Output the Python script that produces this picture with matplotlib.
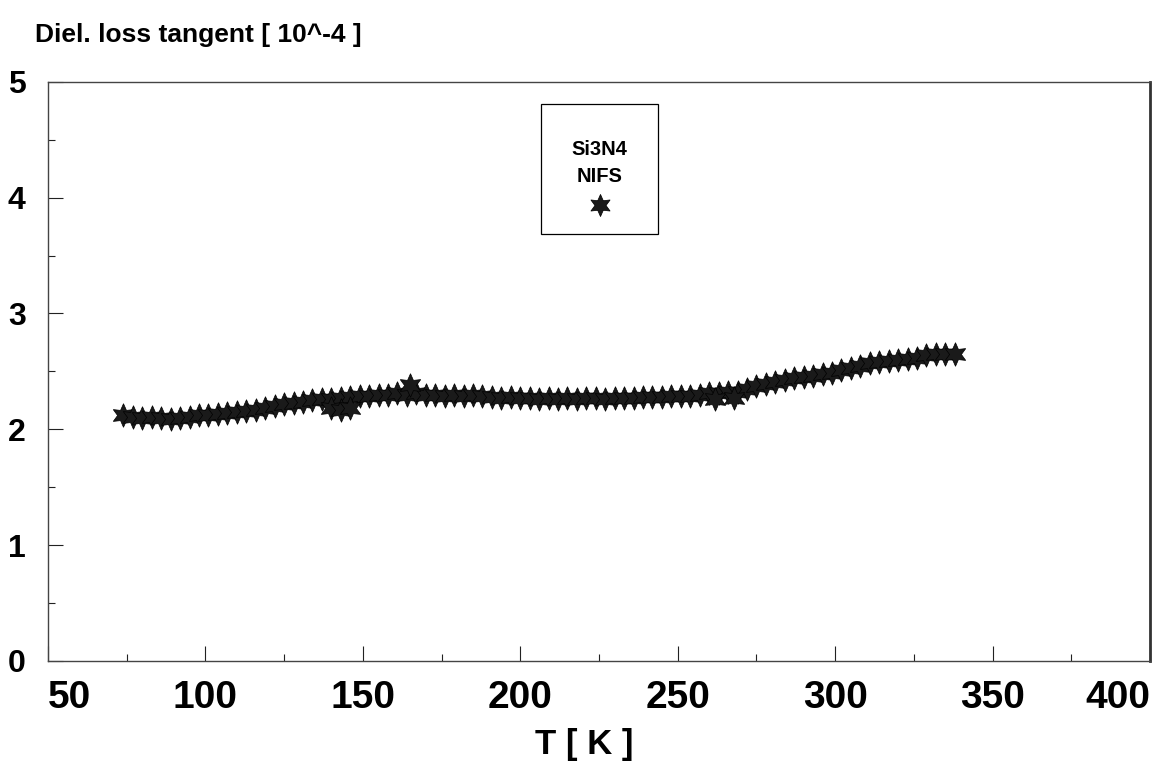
import matplotlib
matplotlib.use("Agg")
import matplotlib.pyplot as plt
from matplotlib.patches import Rectangle
from matplotlib.ticker import MultipleLocator

plt.rcParams['font.family'] = ['Liberation Sans', 'DejaVu Sans']

# Si3N4 (NIFS) loss tangent vs temperature
temp = [74, 77, 80, 83, 86, 89, 92, 95, 98, 101,
        104, 107, 110, 113, 116, 119, 122, 125, 128, 131,
        134, 137, 140, 143, 146, 149, 152, 155, 158, 161,
        164, 167, 170, 173, 176, 179, 182, 185, 188, 191,
        194, 197, 200, 203, 206, 209, 212, 215, 218, 221,
        224, 227, 230, 233, 236, 239, 242, 245, 248, 251,
        254, 257, 260, 263, 266, 269, 272, 275, 278, 281,
        284, 287, 290, 293, 296, 299, 302, 305, 308, 311,
        314, 317, 320, 323, 326, 329, 332, 335, 338]
tand = [2.12, 2.11, 2.10, 2.11, 2.10, 2.09, 2.10, 2.11, 2.12, 2.12,
        2.13, 2.14, 2.15, 2.16, 2.17, 2.18, 2.20, 2.22, 2.23, 2.24,
        2.25, 2.26, 2.26, 2.27, 2.28, 2.29, 2.29, 2.30, 2.30, 2.31,
        2.30, 2.31, 2.30, 2.30, 2.29, 2.30, 2.29, 2.30, 2.29, 2.28,
        2.27, 2.28, 2.27, 2.27, 2.26, 2.27, 2.26, 2.27, 2.26, 2.27,
        2.27, 2.26, 2.27, 2.27, 2.27, 2.28, 2.28, 2.28, 2.29, 2.29,
        2.29, 2.30, 2.31, 2.31, 2.32, 2.32, 2.35, 2.37, 2.39, 2.41,
        2.43, 2.44, 2.45, 2.46, 2.48, 2.49, 2.51, 2.53, 2.55, 2.57,
        2.58, 2.59, 2.60, 2.61, 2.62, 2.64, 2.65, 2.65, 2.65]

# a few stray points off the main band
temp_out = [140, 143, 146, 165, 262, 268]
tand_out = [2.18, 2.17, 2.18, 2.38, 2.26, 2.27]

xticks = [50, 100, 150, 200, 250, 300, 350, 400]
yticks = [0, 1, 2, 3, 4, 5]

star = (6, 1, 0)

fig = plt.figure(figsize=(11.68, 7.65), dpi=100)
ax = fig.add_axes([0.041, 0.136, 0.9436, 0.757])

ax.plot(temp, tand, linestyle='none', marker=star, markersize=17,
        color='#1a1a1a', markeredgecolor='black', markeredgewidth=0.5)
ax.plot(temp_out, tand_out, linestyle='none', marker=star, markersize=17,
        color='#1a1a1a', markeredgecolor='black', markeredgewidth=0.5)

ax.set_xlim(50, 400)
ax.set_ylim(0, 5)
ax.set_xticks(xticks)
ax.set_yticks(yticks)
ax.xaxis.set_minor_locator(MultipleLocator(25))
ax.yaxis.set_minor_locator(MultipleLocator(0.5))
ax.set_xticklabels([str(t) for t in xticks], fontsize=28, fontweight='bold')
ax.set_yticklabels([str(t) for t in yticks], fontsize=23, fontweight='bold')
xl = ax.get_xticklabels()
xl[0].set_horizontalalignment('left')
xl[-1].set_horizontalalignment('right')

ax.tick_params(axis='both', which='major', direction='in', length=10.5,
               width=0.8, color='#222222', top=False, right=False)
ax.tick_params(axis='both', which='minor', direction='in', length=5,
               width=0.8, color='#222222', top=False, right=False)
ax.tick_params(axis='x', which='major', pad=14)
ax.tick_params(axis='y', which='major', pad=16)

for side in ['left', 'bottom', 'top']:
    ax.spines[side].set_color('#444444')
    ax.spines[side].set_linewidth(1.0)
ax.spines['right'].set_color('#333333')
ax.spines['right'].set_linewidth(2.0)

fig.text(0.5, 0.027, 'T [ K ]', fontsize=25, fontweight='bold',
         ha='center', va='center')
fig.text(0.03, 0.954, 'Diel. loss tangent [ 10^-4 ]', fontsize=19,
         fontweight='bold', ha='left', va='center')

# legend box
ax.add_patch(Rectangle((0.447, 0.737), 0.107, 0.225, transform=ax.transAxes,
                       fill=False, edgecolor='black', linewidth=0.9))
ax.text(0.5005, 0.883, 'Si3N4', transform=ax.transAxes, ha='center',
        va='center', fontsize=14.5, fontweight='bold')
ax.text(0.5005, 0.837, 'NIFS', transform=ax.transAxes, ha='center',
        va='center', fontsize=14.5, fontweight='bold')
ax.plot([0.5005], [0.788], transform=ax.transAxes, linestyle='none',
        marker=star, markersize=16, color='#1a1a1a',
        markeredgecolor='black', markeredgewidth=0.5)

fig.savefig('out.png', dpi=100)
